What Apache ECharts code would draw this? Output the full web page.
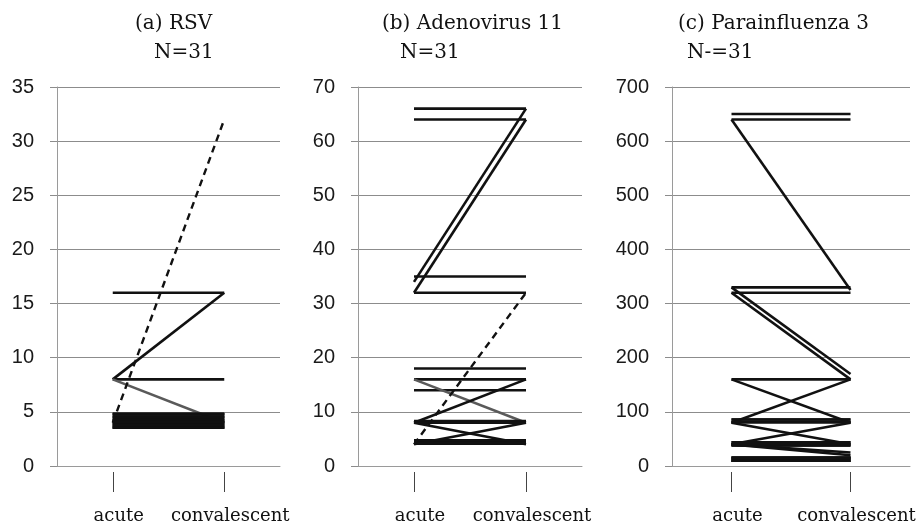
<!DOCTYPE html>
<html>
<head>
<meta charset="utf-8">
<script src="https://cdn.jsdelivr.net/npm/echarts@6/dist/echarts.min.js"></script>
<style>
  html, body { margin: 0; background: #fff; }
  #chart { width: 919px; height: 526px; }
</style>
</head>
<body>
<div id="chart"></div>
<script>
// categories and titles
const categories = ['acute', 'convalescent']
const panelTitles = ['(a) RSV', '(b) Adenovirus 11', '(c) Parainfluenza 3']
const panelCounts = ['N=31', 'N=31', 'N-=31']
const yMax = [35, 70, 700]
const yStep = [5, 10, 100]

// (a) RSV : one entry per subject, acute -> convalescent
const rsvAcute = [16, 8, 8, 8, 4, 4.8, 4.8, 4.8, 4.8, 4.55, 4.55, 4.55, 4.55, 4.3, 4.3, 4.3, 4.3, 4.05, 4.05, 4.05, 4.05, 4.05, 3.8, 3.8, 3.8, 3.8, 3.55, 3.55, 3.55, 3.55, 3.55]
const rsvConv  = [16, 16, 8, 4, 32, 4.8, 4.8, 4.8, 4.8, 4.55, 4.55, 4.55, 4.55, 4.3, 4.3, 4.3, 4.3, 4.05, 4.05, 4.05, 4.05, 4.05, 3.8, 3.8, 3.8, 3.8, 3.55, 3.55, 3.55, 3.55, 3.55]
const rsvDashed = [4]
const rsvGray = [3]

// (b) Adenovirus 11
const adenoAcute = [66, 64, 34, 32, 35, 32, 4, 18, 16, 14, 16, 8, 8, 8.3, 8, 4, 4.2, 4.2, 4.2, 4.2, 4.2, 4.2, 4.7, 4.7, 4.7, 4.7, 4.7, 4.7, 4.2, 4.7, 8]
const adenoConv  = [66, 64, 66, 64, 35, 32, 32, 18, 16, 14, 8, 16, 8, 8.3, 4, 8, 4.2, 4.2, 4.2, 4.2, 4.2, 4.2, 4.7, 4.7, 4.7, 4.7, 4.7, 4.7, 4.2, 4.7, 8]
const adenoDashed = [6]
const adenoGray = [10]

// (c) Parainfluenza 3
const paraAcute = [650, 640, 640, 330, 320, 330, 320, 160, 160, 80, 81, 86, 80, 40, 38, 44, 40, 40, 10, 15, 10, 15, 10, 15, 38, 44, 81, 86, 10, 15, 40]
const paraConv  = [650, 640, 325, 330, 320, 170, 160, 160, 80, 160, 81, 86, 40, 80, 38, 44, 25, 20, 10, 15, 10, 15, 10, 15, 38, 44, 81, 86, 10, 15, 40]
const paraDashed = []
const paraGray = []

const panels = [
  { acute: rsvAcute, conv: rsvConv, dashed: rsvDashed, gray: rsvGray },
  { acute: adenoAcute, conv: adenoConv, dashed: adenoDashed, gray: adenoGray },
  { acute: paraAcute, conv: paraConv, dashed: paraDashed, gray: paraGray }
]

// layout of the three small charts
const gridLeft = [57, 358, 672]
const gridWidth = [223, 224, 238]
const titlePos = [[135, 154], [382, 400], [678, 687]]

const serif = 'DejaVu Serif'
const sans = 'Liberation Sans'

const chart = echarts.init(document.getElementById('chart'))

const titles = []
const grids = []
const xAxes = []
const yAxes = []
const series = []

panels.forEach((p, i) => {
  titles.push({
    text: panelTitles[i], left: titlePos[i][0], top: 14, padding: 0,
    textStyle: { fontFamily: serif, fontSize: 20, fontWeight: 'normal', color: '#111' }
  })
  titles.push({
    text: panelCounts[i], left: titlePos[i][1], top: 43, padding: 0,
    textStyle: { fontFamily: serif, fontSize: 20, fontWeight: 'normal', color: '#111' }
  })
  grids.push({ left: gridLeft[i], width: gridWidth[i], top: 87, height: 379 })
  // axis line at zero
  xAxes.push({
    type: 'category', gridIndex: i, data: categories, boundaryGap: true,
    axisLine: { lineStyle: { color: '#9a9a9a', width: 1 } },
    axisTick: { show: false }, axisLabel: { show: false }
  })
  // detached ticks and labels under the axis
  xAxes.push({
    type: 'category', gridIndex: i, data: categories, boundaryGap: true,
    position: 'bottom', offset: 6,
    axisLine: { show: false },
    axisTick: { show: true, interval: 0, alignWithLabel: true, length: 20, lineStyle: { color: '#444', width: 1 } },
    axisLabel: { interval: 0, hideOverlap: false, fontFamily: serif, fontSize: 18, color: '#111', margin: 35, padding: [0, 0, 0, 12] }
  })
  yAxes.push({
    type: 'value', gridIndex: i, min: 0, max: yMax[i], interval: yStep[i],
    axisLine: { show: true, lineStyle: { color: '#9a9a9a', width: 1 } },
    axisTick: { show: true, length: 7, lineStyle: { color: '#8c8c8c' } },
    splitLine: { lineStyle: { color: '#8c8c8c', width: 1 } },
    axisLabel: { fontFamily: sans, fontSize: 20, color: '#1a1a1a', margin: 23 }
  })
  p.acute.forEach((a, k) => {
    const dashed = p.dashed.includes(k)
    const gray = p.gray.includes(k)
    series.push({
      type: 'line', xAxisIndex: i * 2, yAxisIndex: i,
      data: [a, p.conv[k]],
      symbol: 'none', silent: true, animation: false,
      z: dashed ? 4 : 3,
      lineStyle: {
        color: gray ? '#5a5a5a' : '#111',
        width: dashed ? 2.4 : 2.6,
        type: dashed ? [7, 5] : 'solid'
      }
    })
  })
})

chart.setOption({
  animation: false,
  title: titles,
  grid: grids,
  xAxis: xAxes,
  yAxis: yAxes,
  series: series
})
</script>
</body>
</html>
